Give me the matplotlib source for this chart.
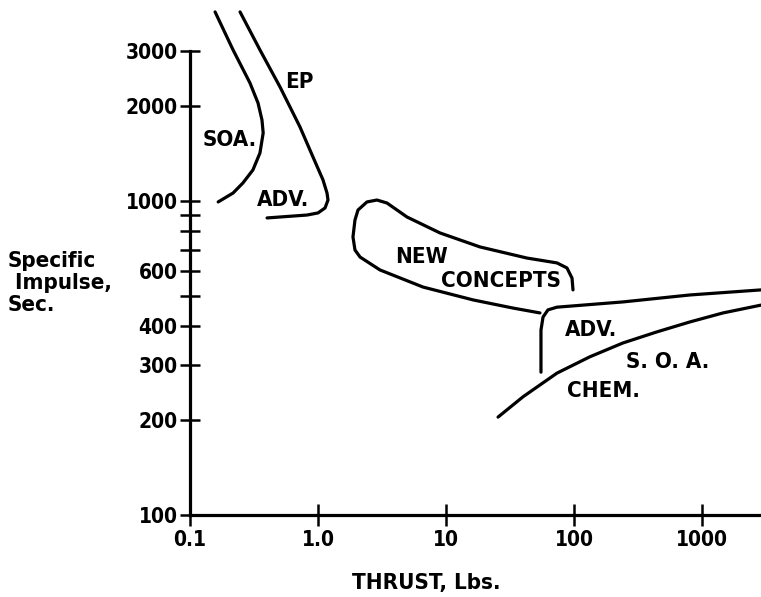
import numpy as np
import matplotlib
matplotlib.use("Agg")
import matplotlib.pyplot as plt

# curves (thrust lbs, Isp sec)
ep_soa_x = [0.157, 0.217, 0.294, 0.340, 0.365, 0.373, 0.352, 0.310, 0.259, 0.217, 0.166]
ep_soa_y = [4000, 3027, 2376, 2051, 1811, 1647, 1422, 1255, 1141, 1060, 993]

ep_adv_x = [0.246, 0.352, 0.505, 0.723, 0.914, 1.094, 1.176, 1.197, 1.135, 1.0, 0.820, 0.400]
ep_adv_y = [4000, 3027, 2307, 1721, 1380, 1167, 1060, 1007, 950, 916, 902, 883]

new_x = [54.2, 33.4, 16.3, 6.61, 3.05, 2.13, 1.945, 1.876, 1.945, 2.054, 2.414, 2.89,
         3.46, 4.96, 8.98, 18.4, 42.9, 73.6, 88.1, 96.5, 98.2]
new_y = [440, 456, 484, 532, 603, 663, 698, 768, 870, 936, 993, 1007,
         985, 889, 791, 714, 658, 635, 612, 568, 521]

chem_adv_x = [55.2, 55.2, 57.3, 62.6, 73.6, 241, 806, 2890]
chem_adv_y = [285, 388, 427, 450, 459, 477, 502, 521]

chem_soa_x = [25.5, 40.0, 73.6, 133, 241, 445, 806, 1459, 2890]
chem_soa_y = [205, 238, 283, 319, 353, 383, 412, 440, 466]

labels = ["EP", "SOA.", "ADV.", "NEW", "CONCEPTS", "ADV.", "S. O. A.", "CHEM."]
label_x = [0.72, 0.205, 0.533, 6.49, 26.9, 136, 542, 169]
label_y = [2393, 1563, 1007, 663, 556, 388, 307, 248]

yticks = [100, 200, 300, 400, 500, 600, 700, 800, 900, 1000, 2000, 3000]
ytick_labels = ["100", "200", "300", "400", "", "600", "", "", "", "1000", "2000", "3000"]
xticks = [0.1, 1, 10, 100, 1000]
xtick_labels = ["0.1", "1.0", "10", "100", "1000"]

font = dict(family="DejaVu Sans", stretch="condensed", weight="bold")

fig = plt.figure(figsize=(7.61, 5.97), dpi=100)
ax = fig.add_axes([190 / 761, 82 / 597, 571 / 761, 515 / 597])
ax.set_xscale("log")
ax.set_yscale("log")
ax.set_xlim(0.1, 2890)
ax.set_ylim(100, 4365)

lw = 2.3
for xs, ys in [(ep_soa_x, ep_soa_y), (ep_adv_x, ep_adv_y), (new_x, new_y),
               (chem_adv_x, chem_adv_y), (chem_soa_x, chem_soa_y)]:
    ax.plot(xs, ys, color="black", lw=lw, solid_capstyle="round",
            solid_joinstyle="round", clip_on=False)

for t, x, y in zip(labels, label_x, label_y):
    ax.text(x, y, t, ha="center", va="center", fontsize=16, **font)

ax.spines["top"].set_visible(False)
ax.spines["right"].set_visible(False)
ax.spines["left"].set_linewidth(2.3)
ax.spines["bottom"].set_linewidth(2.3)
ax.spines["left"].set_bounds(100, 3000)

ax.minorticks_off()
ax.set_yticks(yticks)
ax.set_yticklabels(ytick_labels, fontsize=15, **font)
ax.set_xticks(xticks)
ax.set_xticklabels(xtick_labels, fontsize=15, **font)
ax.tick_params(axis="y", direction="inout", length=14, width=1.8, pad=2)
ax.tick_params(axis="x", direction="inout", length=16, width=1.8, pad=3)

fig.text(8 / 761, 1 - 283 / 597, "Specific\n Impulse,\nSec.", ha="left", va="center",
         fontsize=16, linespacing=1.1, **font)
fig.text(426 / 761, 1 - 583 / 597, "THRUST, Lbs.", ha="center", va="center",
         fontsize=16, **font)

fig.savefig("out.png", dpi=100)
